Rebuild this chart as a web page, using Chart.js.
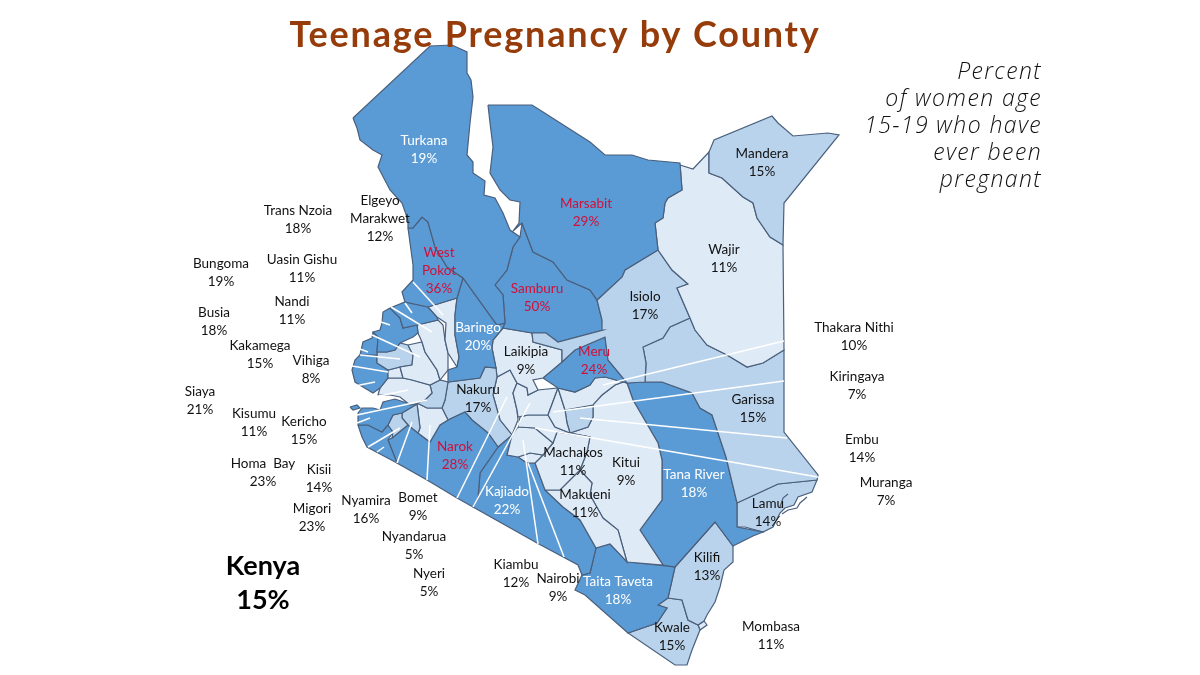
<!DOCTYPE html>
<html>
<head>
<meta charset="utf-8">
<title>Teenage Pregnancy by County</title>
<script src="https://cdn.jsdelivr.net/npm/chart.js@4/dist/chart.umd.min.js"></script>
<style>
  html, body { margin: 0; padding: 0; background: #fff; }
  canvas { display: block; }
</style>
</head>
<body>
<canvas id="chart" width="1200" height="675"></canvas>
<script>
// "|" marks a line break in the label
const counties = [
  "Turkana", "Marsabit", "Mandera", "Wajir", "Isiolo", "Samburu", "West|Pokot", "Baringo",
  "Elgeyo|Marakwet", "Trans Nzoia", "Bungoma", "Uasin Gishu", "Nandi", "Busia", "Kakamega", "Vihiga",
  "Siaya", "Kisumu", "Kericho", "Homa  Bay", "Kisii", "Migori", "Nyamira", "Bomet",
  "Narok", "Nakuru", "Laikipia", "Meru", "Thakara Nithi", "Kiringaya", "Embu", "Nyeri",
  "Nyandarua", "Muranga", "Kiambu", "Nairobi", "Machakos", "Makueni", "Kitui", "Kajiado",
  "Garissa", "Tana River", "Lamu", "Taita Taveta", "Kilifi", "Kwale", "Mombasa"
];
const percents = [
  19, 29, 15, 11, 17, 50, 36, 20,
  12, 18, 19, 11, 11, 18, 15, 8,
  21, 11, 15, 23, 14, 23, 16, 9,
  28, 17, 9, 24, 10, 7, 14, 5,
  5, 7, 12, 9, 11, 11, 9, 22,
  15, 18, 14, 18, 13, 15, 11
];
const nationalLabel = ["Kenya", "15%"];
const titleText = "Teenage Pregnancy by County";
const noteLines = ["Percent", "of women age", "15-19 who have", "ever been", "pregnant"];

// county outlines, flat x,y pairs in scale units
const outlines = [
  [353,118, 430,46, 452,45, 467,52, 467,73, 471,80, 473,97, 470,123, 467,155, 473,162, 473,173, 485,181, 484,195, 495,198, 503,213, 510,230, 520,237, 513,247, 507,270, 495,285, 503,295, 505,323, 497,325, 463,278, 447,267, 435,247, 428,222, 422,217, 413,228, 408,228, 408,220, 402,203, 390,190, 378,167, 382,155, 373,150, 360,140, 357,128],
  [488,105, 532,105, 543,112, 590,142, 605,155, 632,155, 648,160, 680,163, 682,190, 668,198, 665,203, 663,218, 655,223, 658,250, 625,270, 622,277, 597,300, 590,290, 567,280, 553,262, 533,252, 522,223, 513,231, 519,223, 520,202, 510,200, 500,190, 490,173, 493,147, 490,123],
  [709,173, 709,152, 714,140, 772,116, 778,123, 793,136, 828,133, 839,135, 784,203, 783,245, 770,237, 757,218, 753,203, 743,197, 722,178],
  [680,165, 693,169, 709,152, 709,173, 722,178, 743,197, 753,203, 757,218, 770,237, 783,245, 784,350, 763,363, 747,367, 727,355, 707,345, 695,330, 690,318, 677,288, 688,284, 672,270, 658,250, 655,223, 663,218, 665,203, 668,198, 682,190],
  [597,300, 622,277, 625,270, 658,250, 672,270, 688,284, 677,288, 690,318, 670,327, 663,338, 643,347, 646,363, 645,382, 627,383, 608,360, 605,337, 575,350, 562,362, 562,350, 533,342, 532,333, 546,333, 558,342, 603,330, 602,320],
  [522,223, 533,252, 553,262, 567,280, 590,290, 597,300, 602,320, 603,330, 558,342, 546,333, 532,333, 503,328, 505,323, 503,295, 495,285, 507,270, 513,247, 520,237],
  [408,228, 413,228, 422,217, 428,222, 435,247, 447,267, 463,278, 457,298, 428,307, 405,302, 402,292, 413,280, 413,265],
  [463,278, 497,325, 505,323, 503,328, 493,340, 492,348, 496,368, 485,367, 480,378, 448,382, 448,370, 457,367, 459,357, 455,335, 455,315, 457,298],
  [428,307, 457,298, 455,315, 455,335, 459,357, 457,367, 448,353, 445,340, 446,323, 437,317],
  [390,308, 405,302, 428,307, 437,317, 438,320, 417,325, 403,328, 400,318],
  [390,308, 383,312, 382,323, 380,330, 373,332, 378,337, 377,352, 387,352, 395,350, 400,343, 413,337, 418,333, 417,325, 403,328, 400,318],
  [417,325, 438,320, 443,325, 445,340, 448,353, 448,370, 440,380, 437,370, 425,352, 422,342, 418,333],
  [408,345, 422,342, 425,352, 437,370, 440,380, 430,385, 412,380, 403,378, 400,367, 412,365, 413,355],
  [373,332, 378,337, 377,352, 377,355, 360,355, 363,342, 372,338],
  [377,352, 387,352, 395,350, 400,343, 408,345, 413,355, 412,365, 400,367, 388,370, 377,363],
  [388,370, 400,367, 403,378, 388,378],
  [360,355, 355,360, 352,370, 355,382, 363,387, 373,393, 380,388, 388,378, 388,370, 377,363, 377,355],
  [380,388, 388,378, 403,378, 412,380, 430,385, 432,393, 425,400, 417,403, 410,405, 400,397, 390,395, 378,395],
  [417,403, 425,400, 432,393, 430,385, 440,380, 448,382, 445,400, 442,408, 427,408],
  [358,413, 362,408, 373,408, 380,410, 383,402, 395,399, 410,404, 417,404, 402,413, 393,415, 388,425, 382,432, 368,425, 358,425],
  [393,415, 402,413, 402,418, 408,425, 392,438, 393,432, 388,425],
  [358,425, 368,425, 382,432, 388,425, 393,432, 388,440, 397,463, 367,447, 362,437],
  [402,413, 417,404, 420,428, 418,433, 408,425, 402,418],
  [417,403, 427,408, 442,408, 448,420, 440,425, 430,442, 418,433, 420,428],
  [388,440, 397,463, 427,480, 457,498, 473,507, 478,498, 480,473, 498,447, 488,433, 472,420, 465,412, 448,420, 440,425, 430,442, 418,433, 408,425, 392,438],
  [448,382, 480,378, 485,367, 496,368, 497,377, 493,395, 500,420, 512,435, 498,447, 488,433, 472,420, 465,412, 448,420, 442,408, 445,400],
  [493,340, 503,328, 532,333, 533,342, 562,350, 562,362, 543,378, 533,380, 538,390, 528,395, 527,388, 517,383, 510,370, 497,377, 496,368, 492,348],
  [543,378, 562,362, 575,350, 605,337, 608,360, 627,383, 623,382, 605,377, 595,378, 590,385, 575,392, 558,388],
  [558,388, 575,392, 590,385, 595,378, 605,377, 623,382, 615,385, 602,395, 593,405, 565,410],
  [558,388, 565,410, 567,423, 570,433, 555,427, 548,415],
  [565,410, 593,403, 593,417, 588,427, 570,433, 567,423],
  [517,383, 527,388, 528,395, 538,390, 558,388, 548,415, 528,415, 518,417, 517,410, 513,393],
  [497,377, 510,370, 517,383, 513,393, 517,410, 518,420, 512,435, 500,420, 493,395],
  [518,427, 520,417, 528,415, 548,415, 555,427, 570,433, 590,437, 557,432, 553,443, 535,428],
  [512,435, 518,427, 535,428, 553,443, 543,455, 530,453, 518,457, 507,455],
  [518,457, 530,453, 543,455, 535,463, 527,463],
  [557,432, 590,437, 587,452, 580,470, 560,490, 545,490, 535,463, 543,455, 553,443],
  [545,490, 560,490, 580,470, 592,483, 590,495, 603,518, 618,530, 627,562, 610,544, 596,548, 580,520, 563,507],
  [623,382, 627,383, 633,400, 658,443, 662,460, 662,500, 640,530, 663,565, 627,562, 618,530, 603,518, 590,495, 592,483, 580,470, 587,452, 590,437, 570,433, 588,427, 593,417, 593,403, 602,395, 615,385],
  [512,435, 507,455, 518,457, 527,463, 535,463, 545,490, 563,507, 580,520, 596,548, 590,573, 582,575, 578,565, 537,543, 473,507, 478,498, 480,473, 498,447],
  [695,330, 707,345, 727,355, 747,367, 763,363, 784,350, 784,432, 818,475, 817,480, 778,484, 737,503, 726,457, 712,415, 700,408, 692,393, 662,382, 645,382, 646,363, 643,347, 663,338, 670,327, 690,318],
  [645,382, 662,382, 692,393, 700,408, 712,415, 726,457, 737,503, 737,527, 763,532, 753,536, 733,546, 715,522, 675,567, 663,565, 640,530, 662,500, 662,460, 658,443, 633,400, 627,383],
  [737,503, 778,484, 817,480, 812,492, 798,497, 794,505, 785,508, 780,513, 773,527, 763,532, 745,527, 737,527],
  [596,548, 610,544, 628,562, 675,567, 668,598, 658,605, 667,608, 657,623, 628,633, 585,595, 575,590, 582,575, 590,573],
  [715,522, 733,546, 733,562, 724,570, 720,587, 715,602, 707,615, 704,621, 698,625, 688,620, 682,600, 668,598, 675,567],
  [668,598, 682,600, 688,620, 698,625, 700,630, 692,650, 687,665, 675,665, 628,633, 657,623, 667,608, 658,605],
  [698,625, 704,621, 707,625, 700,630]
];

// second part of a county, index into counties then outline
const isletCounty = [19];
const isletOutlines = [[350,407, 357,405, 360,408, 353,410]];

// Lamu archipelago squiggles
const coastMarks = [
  [780,507, 783,498, 788,494],
  [782,514, 788,510, 797,508, 800,503, 807,497]
];

// leader lines from the outside labels into the small counties
const leaders = [
  [413,282, 443,315], [405,303, 412,313], [391,307, 432,332], [381,322, 390,325],
  [372,335, 420,357], [360,349, 368,352], [360,355, 400,359], [352,366, 388,372],
  [355,386, 375,382], [370,398, 408,390], [357,415, 427,400], [357,423, 370,418],
  [368,447, 400,428], [377,452, 384,447], [397,463, 412,422], [427,480, 430,425],
  [457,498, 507,397], [473,507, 530,403], [538,544, 523,440], [564,557, 528,463],
  [784,341, 603,385], [784,381, 553,412], [787,438, 580,418], [818,477, 535,428]
];

// label centres, first line of each label, same order as counties
const labelX = [
  424, 586, 762, 724, 645, 537, 439, 478,
  380, 298, 221, 302, 292, 214, 260, 311,
  200, 254, 304, 263, 319, 312, 366, 418,
  455, 478, 526, 594, 854, 857, 862, 429,
  414, 886, 516, 558, 573, 585, 626, 507,
  753, 694, 768, 618, 707, 672, 771
];
const labelY = [
  141, 204, 154, 250, 297, 289, 253, 328,
  201, 211, 264, 260, 302, 313, 346, 361,
  392, 414, 422, 464, 470, 509, 501, 498,
  447, 390, 352, 352, 328, 377, 440, 574,
  537, 483, 565, 579, 453, 495, 463, 492,
  400, 475, 504, 582, 558, 628, 627
];
const insideWhite = ["Turkana", "Baringo", "Kajiado", "Tana River", "Taita Taveta"];

function bandColor(pct) {
  if (pct >= 18) return "#5b9bd5";
  if (pct >= 13) return "#bad3ec";
  return "#deeaf6";
}

function toPoints(flat) {
  const pts = [];
  for (let i = 0; i < flat.length; i += 2) {
    pts.push({x: flat[i], y: flat[i + 1]});
  }
  return pts;
}

function shapeDataset(flat, i) {
  const pts = toPoints(flat);
  pts.push(pts[0]);
  return {
    label: counties[i].replace("|", " "),
    data: pts,
    order: 2,
    showLine: true,
    fill: "shape",
    tension: 0,
    pointRadius: 0,
    borderWidth: 1.2,
    borderColor: "#4a5f7c",
    backgroundColor: bandColor(percents[i])
  };
}

function strokeDataset(flat, label, color, width) {
  return {
    label: label,
    data: toPoints(flat),
    order: 1,
    showLine: true,
    fill: false,
    pointRadius: 0,
    borderWidth: width,
    borderColor: color
  };
}

const datasets = [];
outlines.forEach(function(flat, i) {
  datasets.push(shapeDataset(flat, i));
});
isletOutlines.forEach(function(flat, i) {
  datasets.push(shapeDataset(flat, isletCounty[i]));
});
coastMarks.forEach(function(flat) {
  datasets.push(strokeDataset(flat, "coast", "#4a5f7c", 1.2));
});
leaders.forEach(function(flat) {
  datasets.push(strokeDataset(flat, "leader", "#ffffff", 1.5));
});

const mapText = {
  id: "mapText",
  afterDatasetsDraw(chart) {
    const ctx = chart.ctx;
    const sx = chart.scales.x;
    const sy = chart.scales.y;
    ctx.save();
    ctx.textBaseline = "middle";

    ctx.textAlign = "center";
    ctx.font = "13.5px Lato";
    counties.forEach(function(name, i) {
      const lines = name.split("|").concat(percents[i] + "%");
      let color = "#111111";
      if (percents[i] >= 24) color = "#d0103a";
      else if (insideWhite.includes(name)) color = "#ffffff";
      ctx.fillStyle = color;
      lines.forEach(function(line, k) {
        ctx.fillText(line, sx.getPixelForValue(labelX[i]), sy.getPixelForValue(labelY[i] + k * 18));
      });
    });

    ctx.fillStyle = "#000000";
    ctx.font = "bold 27px Lato";
    ctx.fillText(nationalLabel[0], sx.getPixelForValue(263), sy.getPixelForValue(566));
    ctx.fillText(nationalLabel[1], sx.getPixelForValue(263), sy.getPixelForValue(600));

    ctx.fillStyle = "#963c0a";
    ctx.font = "bold 36px Lato";
    ctx.letterSpacing = "1.8px";
    ctx.fillText(titleText, sx.getPixelForValue(555), sy.getPixelForValue(35));

    ctx.fillStyle = "#111111";
    ctx.textAlign = "right";
    ctx.font = "italic 300 23px 'Open Sans'";
    ctx.letterSpacing = "1.4px";
    noteLines.forEach(function(line, k) {
      ctx.fillText(line, sx.getPixelForValue(1042), sy.getPixelForValue(72 + k * 27.2));
    });
    ctx.restore();
  }
};

new Chart("chart", {
  type: "scatter",
  data: {datasets: datasets},
  options: {
    responsive: false,
    animation: false,
    layout: {padding: 0},
    plugins: {legend: {display: false}, tooltip: {enabled: false}},
    scales: {
      x: {type: "linear", display: false, min: 0, max: 1200},
      y: {type: "linear", display: false, min: 0, max: 675, reverse: true}
    }
  },
  plugins: [mapText]
});
</script>
</body>
</html>
